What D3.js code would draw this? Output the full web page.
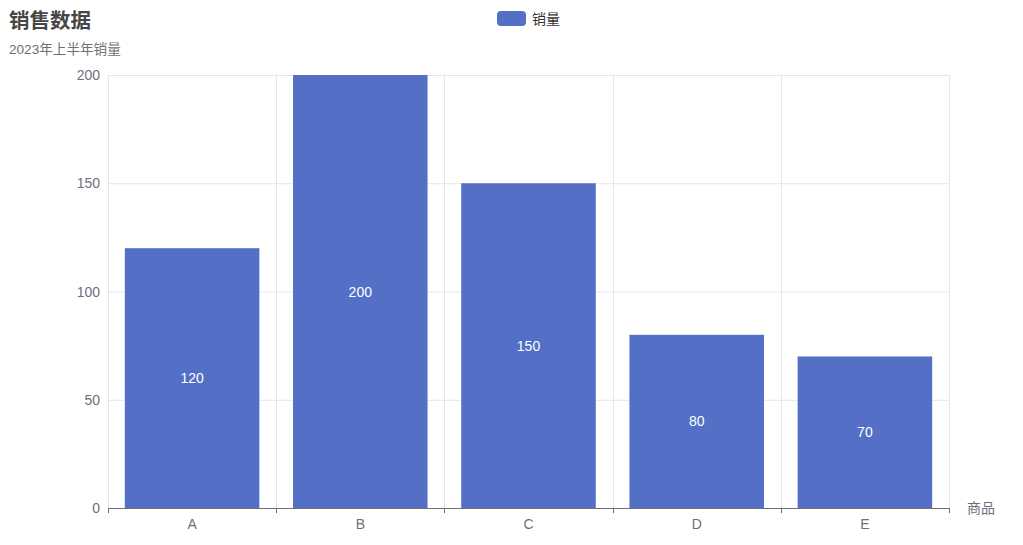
<!DOCTYPE html>
<html><head><meta charset="utf-8">
<script src="https://cdn.jsdelivr.net/npm/d3@7/dist/d3.min.js"></script>
<style>body{margin:0;background:#fff;} svg{display:block;font-family:"Liberation Sans","Noto Sans CJK SC",sans-serif;}</style>
</head><body>
<svg id="c" width="1023" height="545"></svg>
<script>
const categories = ["A","B","C","D","E"];
const salesValues = [120,200,150,80,70];
const yTicks = [0,50,100,150,200];
const seriesName = "销量";
const titleText = "销售数据";
const subtitleText = "2023年上半年销量";
const xAxisName = "商品";

const svg = d3.select("#c");
const m = {left:108, right:949, top:75, bottom:508};
const x = d3.scaleBand().domain(categories).range([m.left, m.right]).paddingInner(0.2).paddingOuter(0.1);
const xb = d3.scaleBand().domain(categories).range([m.left, m.right]);
const y = d3.scaleLinear().domain([0,200]).range([m.bottom, m.top]);

// horizontal grid
svg.append("g").selectAll("line").data(yTicks.filter(d=>d>0)).join("line")
  .attr("x1",m.left).attr("x2",m.right).attr("y1",d=>y(d)+0.5).attr("y2",d=>y(d)+0.5)
  .attr("stroke","#E0E6F1");
// vertical split lines
const bounds = categories.map(c=>xb(c)).concat([m.right]);
svg.append("g").selectAll("line").data(bounds).join("line")
  .attr("x1",d=>Math.round(d)+0.5).attr("x2",d=>Math.round(d)+0.5).attr("y1",m.top).attr("y2",m.bottom)
  .attr("stroke","#E0E6F1");

// bars
svg.append("g").selectAll("rect").data(salesValues).join("rect")
  .attr("x",(d,i)=>x(categories[i])).attr("width",x.bandwidth())
  .attr("y",d=>y(d)).attr("height",d=>m.bottom-y(d)).attr("fill","#5470c6");
// bar labels
svg.append("g").selectAll("text").data(salesValues).join("text")
  .attr("x",(d,i)=>x(categories[i])+x.bandwidth()/2).attr("y",d=>(y(d)+m.bottom)/2)
  .attr("text-anchor","middle").attr("dominant-baseline","central")
  .attr("fill","#fff").attr("font-size",14).text(d=>d);

// x axis
const xa = svg.append("g");
xa.append("line").attr("x1",m.left).attr("x2",m.right).attr("y1",m.bottom+0.5).attr("y2",m.bottom+0.5).attr("stroke","#6E7079");
xa.selectAll("line.t").data(bounds).join("line").attr("class","t")
  .attr("x1",d=>Math.round(d)+0.5).attr("x2",d=>Math.round(d)+0.5).attr("y1",m.bottom).attr("y2",m.bottom+5).attr("stroke","#6E7079");
xa.selectAll("text").data(categories).join("text")
  .attr("x",d=>xb(d)+xb.bandwidth()/2).attr("y",m.bottom+16).attr("text-anchor","middle")
  .attr("dominant-baseline","central").attr("fill","#6E7079").attr("font-size",14).text(d=>d);
svg.append("text").attr("x",m.right+18).attr("y",m.bottom).attr("dominant-baseline","central")
  .attr("fill","#6E7079").attr("font-size",14).text(xAxisName);

// y labels
svg.append("g").selectAll("text").data(yTicks).join("text")
  .attr("x",m.left-8).attr("y",d=>y(d)).attr("text-anchor","end").attr("dominant-baseline","central")
  .attr("fill","#6E7079").attr("font-size",14).text(d=>d);

// title
svg.append("text").attr("x",9).attr("y",20.5).attr("dominant-baseline","central")
  .attr("font-size",20.5).attr("font-weight","bold").attr("fill","#464646").text(titleText);
svg.append("text").attr("x",9).attr("y",49).attr("dominant-baseline","central")
  .attr("font-size",13.6).attr("fill","#6E7079").text(subtitleText);

// legend
svg.append("rect").attr("x",497).attr("y",11).attr("width",29).attr("height",15).attr("rx",4).attr("fill","#5470c6");
svg.append("text").attr("x",532).attr("y",18.5).attr("dominant-baseline","central")
  .attr("font-size",14).attr("fill","#333").text(seriesName);
</script>
</body></html>
